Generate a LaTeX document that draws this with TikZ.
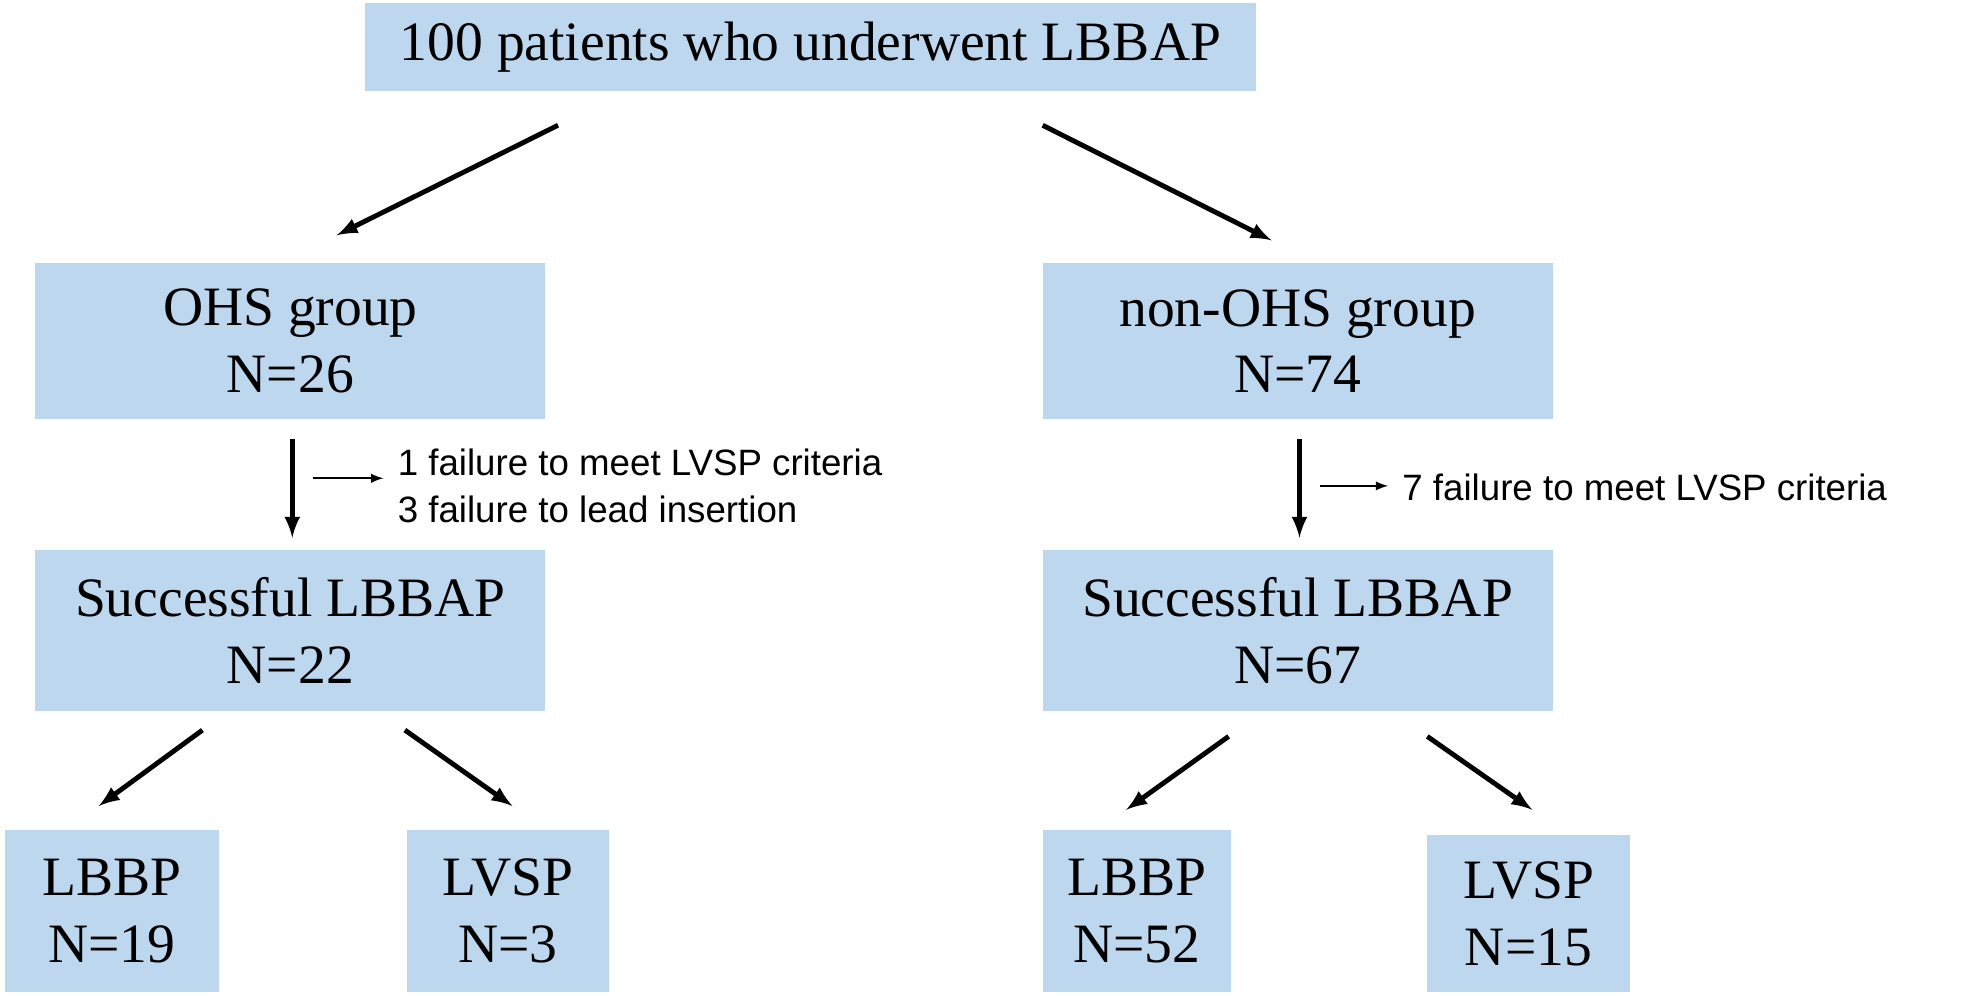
\documentclass[tikz,border=0pt]{standalone}
\usepackage{fontspec}
\setmainfont{Liberation Serif}
\newfontfamily\sansf{Liberation Sans}
\definecolor{boxc}{HTML}{BDD7EE}
\begin{document}
\begin{tikzpicture}[x=0.02cm,y=-0.02cm,
 box/.style={fill=boxc,inner sep=0,align=center,font=\fontsize{25}{30}\selectfont},
 arr/.style={-latex,line width=2.2pt},
 sarr/.style={-latex,line width=0.9pt},
 lbl/.style={font=\sansf\fontsize{16.5}{21}\selectfont,align=left,anchor=west,inner sep=0}]
\useasboundingbox (0,0) rectangle (1568,787);
\node[box,minimum width=14.1cm,minimum height=1.4cm] (top) at (640.5,37) {100 patients who underwent LBBAP};
\node[box,minimum width=8.06cm,minimum height=2.46cm] (ohs) at (229.5,269.5) {OHS group\\N=26};
\node[box,minimum width=8.06cm,minimum height=2.46cm] (nohs) at (1025.5,269.5) {non-OHS group\\N=74};
\node[box,minimum width=8.06cm,minimum height=2.54cm] (s1) at (229.5,498.5) {Successful LBBAP\\N=22};
\node[box,minimum width=8.06cm,minimum height=2.54cm] (s2) at (1025.5,498.5) {Successful LBBAP\\N=67};
\node[box,minimum width=3.38cm,minimum height=2.56cm] (b1) at (88.5,720) {LBBP\\N=19};
\node[box,minimum width=3.18cm,minimum height=2.56cm] (b2) at (401.5,720) {LVSP\\N=3};
\node[box,minimum width=2.98cm,minimum height=2.56cm] (b3) at (898.5,720) {LBBP\\N=52};
\node[box,minimum width=3.2cm,minimum height=2.48cm] (b4) at (1208,722) {LVSP\\N=15};
\coordinate (t1) at (441,99); \coordinate (t2) at (824,99);
\draw[arr] (t1) -- (266,186);
\draw[arr] (t2) -- (1005,190);
\coordinate (v1) at (231,347); \coordinate (v2) at (1027,347);
\draw[arr] (v1) -- (231,425);
\draw[arr] (v2) -- (1027,425);
\coordinate (a1) at (247,378); \coordinate (a2) at (1043,384);
\draw[sarr] (a1) -- (303,378);
\draw[sarr] (a2) -- (1097,384);
\node[lbl] (l1) at (314,384) {1 failure to meet LVSP criteria\\3 failure to lead insertion};
\node[lbl] (l2) at (1108,385) {7 failure to meet LVSP criteria};
\draw[arr] (160,577) -- (78,637);
\draw[arr] (320,577) -- (405,637);
\draw[arr] (971,582) -- (890,640);
\draw[arr] (1128,582) -- (1211,640);
\end{tikzpicture}
\end{document}
